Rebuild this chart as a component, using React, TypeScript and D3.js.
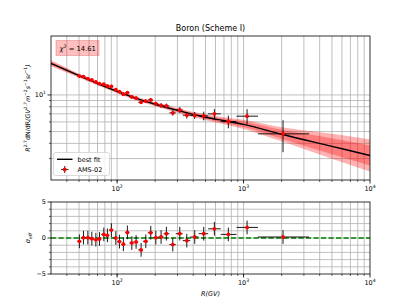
import React from "react";
import * as d3 from "d3";

// AMS-02 boron points (rigidity bin centre, bin edges, flux*R^2.7, error)
const R_CENTER = [50.3, 54.2, 58.7, 63.1, 67.9, 72.5, 78.5, 83.8, 90.1, 97.7, 104.3, 112.1, 120.6, 130.7, 141.3, 154.8, 168.6, 184.6, 202.3, 222.7, 245.3, 275.6, 313, 355.8, 411, 484, 588, 758, 1066, 2052];
const R_LO = [48.5, 52.2, 56.1, 60.3, 64.8, 69.7, 74.9, 80.5, 86.5, 93, 100, 108, 116, 125, 135, 147, 160, 175, 192, 211, 233, 259, 291, 330, 379, 441, 525, 660, 880, 1300];
const R_HI = [52.2, 56.1, 60.3, 64.8, 69.7, 74.9, 80.5, 86.5, 93, 100, 108, 116, 125, 135, 147, 160, 175, 192, 211, 233, 259, 291, 330, 379, 441, 525, 660, 880, 1300, 3300];
const FLUX = [14.3, 14.13, 13.6, 13.27, 12.78, 12.38, 12.24, 11.85, 11.78, 11.05, 10.64, 10.13, 10.44, 9.63, 9.4, 8.71, 8.88, 9.1, 8.47, 8.19, 8.13, 7.12, 7.53, 6.82, 6.79, 6.73, 6.99, 6.04, 6.69, 4.79];
const FLUX_ERR = [0.35, 0.35, 0.34, 0.33, 0.32, 0.31, 0.31, 0.3, 0.3, 0.3, 0.32, 0.31, 0.32, 0.3, 0.3, 0.28, 0.3, 0.32, 0.33, 0.35, 0.37, 0.36, 0.42, 0.42, 0.45, 0.55, 0.65, 0.72, 0.94, 1.4];
const RESID = [-0.46, 0.05, 0.05, -0.09, -0.23, -0.14, 0.5, 0.37, 1.1, 0, -0.5, -0.87, 0.78, -0.69, -0.55, -1.65, -0.46, 0.73, 0.05, 0.14, 0.6, -0.92, 0.6, -0.37, 0.14, 0.6, 1.28, 0.5, 1.47, 0.14];
const RESID_ERR = [0.95, 0.95, 0.95, 0.95, 0.95, 0.95, 0.95, 0.95, 0.95, 0.95, 0.95, 0.95, 0.95, 0.95, 0.95, 0.95, 0.95, 0.95, 0.95, 0.95, 0.95, 0.95, 0.95, 0.95, 0.95, 0.95, 0.95, 0.95, 0.95, 0.95];

// best fit and its uncertainty bands
const FIT_R = [30, 50, 70, 100, 150, 200, 300, 500, 700, 1000, 2000, 5000, 10000];
const FIT_FLUX = [18.2, 14.4, 12.4, 10.7, 9.19, 8.39, 7.46, 6.56, 6.14, 5.73, 4.75, 3.78, 3.18];
const BAND_OUT_LO = [17.2, 13.87, 11.99, 10.34, 8.88, 8.08, 7.14, 6.2, 5.75, 5.26, 4.16, 2.99, 2.35];
const BAND_OUT_HI = [19.26, 14.95, 12.83, 11.07, 9.51, 8.71, 7.79, 6.94, 6.56, 6.24, 5.42, 4.79, 4.3];
const BAND_IN_LO = [17.59, 14.08, 12.17, 10.5, 9.02, 8.2, 7.27, 6.34, 5.89, 5.44, 4.36, 3.25, 2.63];
const BAND_IN_HI = [18.83, 14.73, 12.64, 10.9, 9.36, 8.58, 7.66, 6.79, 6.4, 6.04, 5.17, 4.4, 3.84];

const X_MAJOR = [100, 1000, 10000];
const RES_MAJOR = [-5, 0, 5];

const FONT = "DejaVu Sans";
const L = 51, Rgt = 370;
const T1 = 36, B1 = 180, T2 = 202, B2 = 274;

const sup = (n: number) => String(Math.round(Math.log10(n)));

export default function App() {
  const x = d3.scaleLog().domain([30, 1e4]).range([L, Rgt]);
  const y = d3.scaleLog().domain([2.0, 30.5]).range([B1, T1]);
  const yr = d3.scaleLinear().domain([-5, 5]).range([B2, T2]);

  const xMinor = x.ticks().filter((t) => t > 30 && t < 1e4);
  const yMinor = y.ticks().filter((t) => t > 2 && t <= 10);
  const rMinor = d3.range(-4, 5);

  const idx = FIT_R.map((_, i) => i);
  const line = d3.line<number>().x((i) => x(FIT_R[i])).y((i) => y(FIT_FLUX[i])).curve(d3.curveMonotoneX);
  const areaOut = d3.area<number>().x((i) => x(FIT_R[i])).y0((i) => y(BAND_OUT_LO[i])).y1((i) => y(BAND_OUT_HI[i])).curve(d3.curveMonotoneX);
  const areaIn = d3.area<number>().x((i) => x(FIT_R[i])).y0((i) => y(BAND_IN_LO[i])).y1((i) => y(BAND_IN_HI[i])).curve(d3.curveMonotoneX);

  const grid = "#b0b0b0";
  const pts = R_CENTER.map((_, i) => i);

  const xTicks = (bottom: number) => (
    <g>
      {xMinor.map((t) => (
        <line key={"m" + t} x1={x(t)} x2={x(t)} y1={bottom} y2={bottom + 2} stroke="#000" strokeWidth={0.6} />
      ))}
      {X_MAJOR.map((t) => (
        <g key={t}>
          <line x1={x(t)} x2={x(t)} y1={bottom} y2={bottom + 3.5} stroke="#000" strokeWidth={0.8} />
          <text x={x(t)} y={bottom + 11} textAnchor="middle" fontSize={6.5} fontFamily={FONT}>
            10<tspan dy={-3} fontSize={4.6}>{sup(t)}</tspan>
          </text>
        </g>
      ))}
    </g>
  );

  return (
    <svg width={411} height={308} style={{ position: "absolute", left: 0, top: 0 }}>
      <rect width={411} height={308} fill="#fff" />
      <defs>
        <clipPath id="c1"><rect x={L} y={T1} width={Rgt - L} height={B1 - T1} /></clipPath>
        <clipPath id="c2"><rect x={L} y={T2} width={Rgt - L} height={B2 - T2} /></clipPath>
      </defs>

      {/* top panel grid */}
      {xMinor.map((t) => (
        <line key={"gx" + t} x1={x(t)} x2={x(t)} y1={T1} y2={B1} stroke={grid} strokeWidth={0.8} />
      ))}
      {yMinor.map((t) => (
        <line key={"gy" + t} x1={L} x2={Rgt} y1={y(t)} y2={y(t)} stroke={grid} strokeWidth={0.8} />
      ))}

      <g clipPath="url(#c1)">
        <path d={areaOut(idx) || ""} fill="#ff0000" fillOpacity={0.3} />
        <path d={areaIn(idx) || ""} fill="#ff0000" fillOpacity={0.3} />
        <path d={line(idx) || ""} fill="none" stroke="#000" strokeWidth={1.4} />
        {pts.map((i) => (
          <g key={i}>
            <line x1={x(R_LO[i])} x2={x(R_HI[i])} y1={y(FLUX[i])} y2={y(FLUX[i])} stroke="#000" strokeWidth={0.9} />
            <line x1={x(R_CENTER[i])} x2={x(R_CENTER[i])} y1={y(FLUX[i] - FLUX_ERR[i])} y2={y(FLUX[i] + FLUX_ERR[i])} stroke="#000" strokeWidth={0.9} />
          </g>
        ))}
        {pts.map((i) => (
          <circle key={"d" + i} cx={x(R_CENTER[i])} cy={y(FLUX[i])} r={1.9} fill="#ff0000" />
        ))}
      </g>

      <rect x={L} y={T1} width={Rgt - L} height={B1 - T1} fill="none" stroke="#000" strokeWidth={0.8} />
      {xTicks(B1)}
      {yMinor.filter((t) => t < 10).map((t) => (
        <line key={"yt" + t} x1={L - 2} x2={L} y1={y(t)} y2={y(t)} stroke="#000" strokeWidth={0.6} />
      ))}
      <line x1={L - 3.5} x2={L} y1={y(10)} y2={y(10)} stroke="#000" strokeWidth={0.8} />
      <text x={L - 5} y={y(10) + 2.3} textAnchor="end" fontSize={6.5} fontFamily={FONT}>
        10<tspan dy={-3} fontSize={4.6}>1</tspan>
      </text>

      <text x={(L + Rgt) / 2} y={31} textAnchor="middle" fontSize={8} fontFamily={FONT}>Boron (Scheme I)</text>

      <text transform={`translate(30,${(T1 + B1) / 2}) rotate(-90)`} textAnchor="middle" fontSize={6.3} fontFamily={FONT}>
        <tspan fontStyle="italic">R</tspan>
        <tspan dy={-2.8} fontSize={4.5}>2.7</tspan>
        <tspan dy={2.8}>dN/dR</tspan>
        <tspan fontStyle="italic">(GV</tspan>
        <tspan dy={-2.8} fontSize={4.5} fontStyle="italic">1.7</tspan>
        <tspan dy={2.8} fontStyle="italic">m</tspan>
        <tspan dy={-2.8} fontSize={4.5}>−2</tspan>
        <tspan dy={2.8} fontStyle="italic">s</tspan>
        <tspan dy={-2.8} fontSize={4.5}>−1</tspan>
        <tspan dy={2.8} fontStyle="italic">sr</tspan>
        <tspan dy={-2.8} fontSize={4.5}>−1</tspan>
        <tspan dy={2.8} fontStyle="italic">)</tspan>
      </text>

      {/* chi2 box */}
      <rect x={56} y={40.5} width={43} height={15} fill="#ff0000" fillOpacity={0.25} stroke="#d05050" strokeOpacity={0.35} strokeWidth={1} />
      <text x={59.5} y={50.8} fontSize={6.8} fontFamily={FONT}>
        <tspan fontStyle="italic">χ</tspan>
        <tspan dy={-2.8} fontSize={4.6}>2</tspan>
        <tspan dy={2.8}> = 14.61</tspan>
      </text>

      {/* legend */}
      <rect x={53.5} y={152.5} width={56} height={23} rx={2} fill="#fff" fillOpacity={0.8} stroke="#d0d0d0" strokeWidth={0.8} />
      <line x1={57} x2={72.5} y1={159.3} y2={159.3} stroke="#000" strokeWidth={1.4} />
      <text x={77.5} y={161.7} fontSize={6.5} fontFamily={FONT}>best fit</text>
      <line x1={61} x2={68.5} y1={169.5} y2={169.5} stroke="#000" strokeWidth={0.8} />
      <line x1={64.7} x2={64.7} y1={166} y2={173} stroke="#000" strokeWidth={0.8} />
      <circle cx={64.7} cy={169.5} r={1.9} fill="#ff0000" />
      <text x={77.5} y={172} fontSize={6.5} fontFamily={FONT}>AMS-02</text>

      {/* bottom panel */}
      {xMinor.map((t) => (
        <line key={"bx" + t} x1={x(t)} x2={x(t)} y1={T2} y2={B2} stroke={grid} strokeWidth={0.8} />
      ))}
      {rMinor.map((t) => (
        <line key={"by" + t} x1={L} x2={Rgt} y1={yr(t)} y2={yr(t)} stroke={grid} strokeWidth={0.8} />
      ))}
      <g clipPath="url(#c2)">
        <line x1={L} x2={Rgt} y1={yr(0)} y2={yr(0)} stroke="#008000" strokeWidth={1.4} strokeDasharray="5.2,2.3" />
        {pts.map((i) => (
          <g key={"r" + i}>
            <line x1={x(R_LO[i])} x2={x(R_HI[i])} y1={yr(RESID[i])} y2={yr(RESID[i])} stroke="#000" strokeWidth={0.9} />
            <line x1={x(R_CENTER[i])} x2={x(R_CENTER[i])} y1={yr(RESID[i] - RESID_ERR[i])} y2={yr(RESID[i] + RESID_ERR[i])} stroke="#000" strokeWidth={0.9} />
          </g>
        ))}
        {pts.map((i) => (
          <circle key={"rd" + i} cx={x(R_CENTER[i])} cy={yr(RESID[i])} r={1.9} fill="#ff0000" />
        ))}
      </g>
      <rect x={L} y={T2} width={Rgt - L} height={B2 - T2} fill="none" stroke="#000" strokeWidth={0.8} />
      {xTicks(B2)}
      {rMinor.filter((t) => t !== 0).map((t) => (
        <line key={"rt" + t} x1={L - 2} x2={L} y1={yr(t)} y2={yr(t)} stroke="#000" strokeWidth={0.6} />
      ))}
      {RES_MAJOR.map((t) => (
        <g key={"rm" + t}>
          <line x1={L - 3.5} x2={L} y1={yr(t)} y2={yr(t)} stroke="#000" strokeWidth={0.8} />
          <text x={L - 5} y={yr(t) + 2.3} textAnchor="end" fontSize={6.5} fontFamily={FONT}>
            {t < 0 ? "−" + Math.abs(t) : String(t)}
          </text>
        </g>
      ))}
      <text transform={`translate(30,${yr(0)}) rotate(-90)`} textAnchor="middle" fontSize={6.5} fontFamily={FONT}>
        <tspan fontStyle="italic">σ</tspan>
        <tspan dy={1.8} fontSize={4.6} fontStyle="italic">eff</tspan>
      </text>
      <text x={(L + Rgt) / 2} y={296} textAnchor="middle" fontSize={6.5} fontFamily={FONT} fontStyle="italic">R(GV)</text>
    </svg>
  );
}
